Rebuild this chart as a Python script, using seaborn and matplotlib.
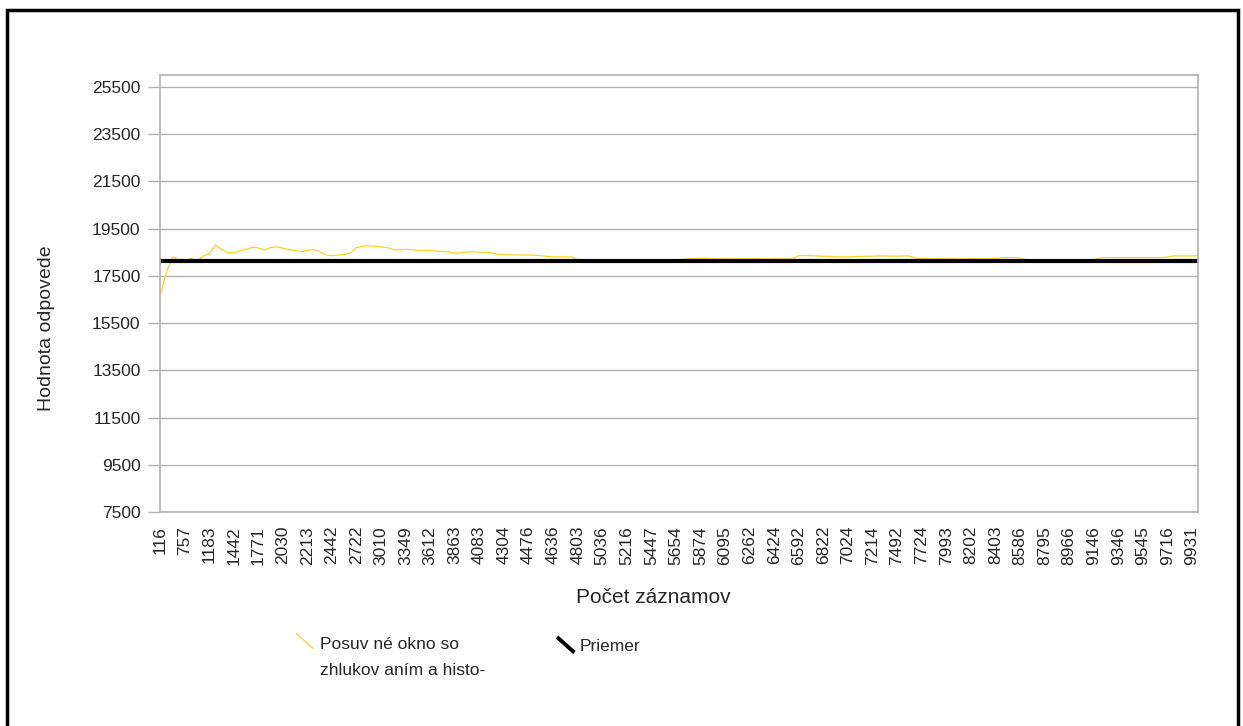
import numpy as np
import pandas as pd
import matplotlib
matplotlib.use("Agg")
import matplotlib.pyplot as plt
import seaborn as sns
from matplotlib.legend_handler import HandlerBase
from matplotlib.lines import Line2D
from matplotlib.patches import Rectangle

# popisky kategorii na osi x (kazdy 4. bod radu)
x_labels = ["116", "757", "1183", "1442", "1771", "2030", "2213", "2442", "2722",
            "3010", "3349", "3612", "3863", "4083", "4304", "4476", "4636", "4803",
            "5036", "5216", "5447", "5654", "5874", "6095", "6262", "6424", "6592",
            "6822", "7024", "7214", "7492", "7724", "7993", "8202", "8403", "8586",
            "8795", "8966", "9146", "9346", "9545", "9716", "9931"]

# hodnoty odpovede (odcitane z grafu)
hodnota = [16650, 17600, 18300, 18180, 18090, 18250, 18100, 18330, 18420, 18800,
           18620, 18480, 18470, 18550, 18620, 18710, 18680, 18590, 18700, 18720,
           18665, 18610, 18570, 18530, 18570, 18620, 18520, 18380, 18350, 18380,
           18400, 18450, 18690, 18750, 18770, 18750, 18720, 18690, 18610, 18590,
           18620, 18600, 18580, 18580, 18570, 18550, 18530, 18510, 18450, 18470,
           18500, 18520, 18500, 18490, 18470, 18410, 18400, 18390, 18380, 18380,
           18380, 18370, 18350, 18320, 18300, 18300, 18300, 18300, 18180, 18170,
           18160, 18170, 18170, 18160, 18170, 18180, 18170, 18160, 18170, 18170,
           18170, 18180, 18170, 18170, 18180, 18190, 18210, 18230, 18240, 18240,
           18230, 18220, 18220, 18210, 18220, 18220, 18230, 18220, 18220, 18210,
           18220, 18220, 18220, 18220, 18350, 18355, 18350, 18340, 18330, 18320,
           18300, 18300, 18300, 18310, 18320, 18330, 18330, 18340, 18340, 18330,
           18330, 18340, 18340, 18240, 18230, 18220, 18220, 18230, 18220, 18220,
           18210, 18220, 18220, 18230, 18220, 18220, 18230, 18260, 18270, 18270,
           18250, 18180, 18180, 18180, 18180, 18180, 18180, 18180, 18180, 18180,
           18180, 18180, 18180, 18250, 18270, 18270, 18270, 18270, 18270, 18270,
           18270, 18270, 18270, 18270, 18290, 18340, 18340, 18340, 18340, 18340]

priemer = 18130
y_ticks = list(range(7500, 25501, 2000))

df = pd.DataFrame({"poradie": np.arange(len(hodnota)), "hodnota": hodnota})


class DiagHandler(HandlerBase):
    # sikma ciara v legende ako v OpenOffice
    def __init__(self, shift=0.0):
        super().__init__()
        self.shift = shift

    def create_artists(self, legend, orig_handle, xdescent, ydescent,
                       width, height, fontsize, trans):
        x0 = -xdescent
        y0 = -ydescent + self.shift * fontsize
        line = Line2D([x0, x0 + width], [y0 + height, y0],
                      color=orig_handle.get_color(),
                      linewidth=orig_handle.get_linewidth(),
                      solid_capstyle="butt")
        line.set_transform(trans)
        return [line]


sns.set_theme(style="white")
plt.rcParams["font.family"] = ["Liberation Sans", "DejaVu Sans"]

W, H = 1243, 726
fig = plt.figure(figsize=(W / 100, H / 100), dpi=100)
ax = fig.add_axes([160 / W, 1 - 512 / H, (1198 - 160) / W, (512 - 75) / H])

sns.lineplot(data=df, x="poradie", y="hodnota", color="#ffd320",
             linewidth=0.9, ax=ax, legend=False)
ax.axhline(priemer, color="black", linewidth=3)

ax.set_xlim(0, len(hodnota) - 1)
ax.set_ylim(7500, 26000)
ax.set_yticks(y_ticks)
ax.set_xticks(np.arange(len(x_labels)) * 4)
ax.set_xticklabels(x_labels, rotation=90)
ax.yaxis.grid(True, color="#b3b3b3", linewidth=1)
ax.set_axisbelow(True)
for s in ax.spines.values():
    s.set_color("#b3b3b3")
    s.set_linewidth(1.2)
ax.tick_params(axis="y", length=9, width=1, color="#b3b3b3", labelsize=12.5,
               pad=5, left=True)
ax.tick_params(axis="x", length=0, labelsize=12.5, pad=10)

ax.set_ylabel("Hodnota odpovede", fontsize=14)
ax.set_xlabel("Počet záznamov", fontsize=15)
ax.yaxis.set_label_coords((55 - 160) / 1038, (512 - 328) / 437)
ax.xaxis.set_label_coords(0.475, (512 - 588) / 437)

h1 = Line2D([], [], color="#ffd320", linewidth=0.9)
h2 = Line2D([], [], color="black", linewidth=2.8)
leg1 = fig.legend(handles=[h1], labels=["Posuv né okno so\nzhlukov aním a histo-"],
                  loc="upper left", bbox_to_anchor=(296 / W, 1 - 637 / H),
                  frameon=False, fontsize=12.5, handlelength=1.0, handleheight=1.0,
                  handletextpad=0.4, borderpad=0, borderaxespad=0,
                  handler_map={h1: DiagHandler(0.95)})
for t in leg1.get_texts():
    t.set_linespacing(1.9)
fig.legend(handles=[h2], labels=["Priemer"],
           loc="upper left", bbox_to_anchor=(557 / W, 1 - 637 / H),
           frameon=False, fontsize=12.5, handlelength=1.0, handleheight=1.0,
           handletextpad=0.3, borderpad=0, borderaxespad=0,
           handler_map={h2: DiagHandler(0.0)})

fig.patches.append(Rectangle((7 / W, -0.05), (1238 - 7) / W, 1.05 - 10 / H,
                             transform=fig.transFigure, fill=False,
                             edgecolor="black", linewidth=2.5))

fig.savefig("out.png", dpi=100)
